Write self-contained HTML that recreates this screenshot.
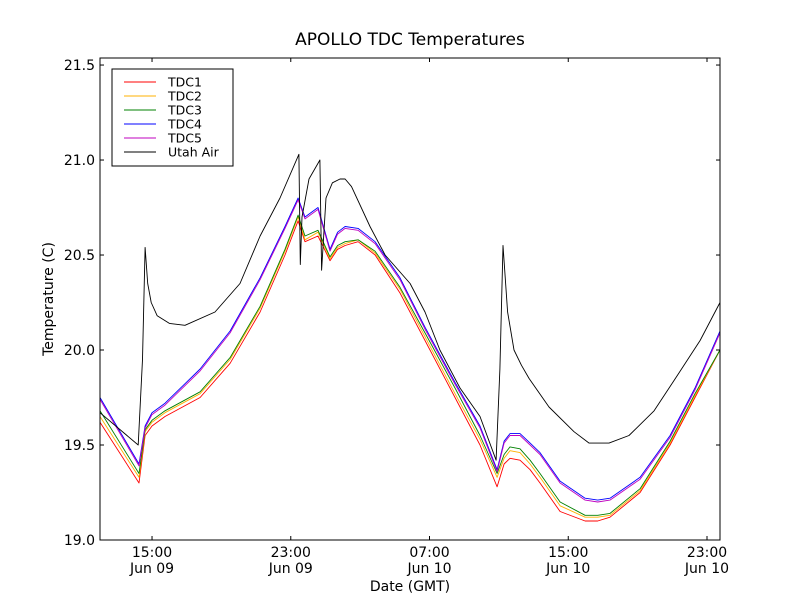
<!DOCTYPE html>
<html><head><meta charset="utf-8"><style>
body{margin:0;background:#fff}
svg{font-family:"DejaVu Sans","Liberation Sans",sans-serif}
</style></head><body>
<svg id="chart" width="800" height="600">
<rect width="800" height="600" fill="#fff"/>
<text x="410" y="45" font-size="17" text-anchor="middle">APOLLO TDC Temperatures</text>
<g id="series"></g>
<g id="axes"></g>
<text x="410" y="591" font-size="14" text-anchor="middle">Date (GMT)</text>
<text transform="translate(53,299) rotate(-90)" font-size="14" text-anchor="middle">Temperature (C)</text>
<g id="legend"></g>
</svg>
<script>
const tdcHours=[0,2.25,2.6,3.0,3.75,5.77,7.5,9.23,10.67,11.42,11.82,12.57,13.26,13.7,14.13,14.88,15.86,17.3,18.74,20.47,21.91,22.9,23.3,23.64,24.22,24.8,25.37,26.53,27.97,28.7,29.41,31.14,32.87,34.31,35.75];
const tdc1=[19.62,19.3,19.55,19.6,19.65,19.75,19.93,20.2,20.5,20.68,20.57,20.6,20.47,20.53,20.55,20.57,20.5,20.3,20.05,19.75,19.5,19.28,19.4,19.43,19.42,19.37,19.3,19.15,19.1,19.1,19.12,19.25,19.5,19.75,20.0];
const tdc2=[19.65,19.33,19.57,19.62,19.67,19.77,19.95,20.22,20.52,20.7,20.58,20.62,20.48,20.54,20.56,20.58,20.51,20.32,20.07,19.77,19.53,19.33,19.43,19.47,19.46,19.4,19.33,19.18,19.12,19.12,19.13,19.26,19.51,19.76,20.0];
const tdc3=[19.68,19.35,19.58,19.63,19.68,19.78,19.96,20.23,20.53,20.71,20.6,20.63,20.49,20.55,20.57,20.58,20.52,20.33,20.09,19.8,19.55,19.35,19.45,19.49,19.48,19.42,19.35,19.2,19.13,19.13,19.14,19.27,19.52,19.77,20.0];
const tdc4=[19.75,19.4,19.6,19.67,19.72,19.9,20.1,20.38,20.65,20.8,20.7,20.75,20.53,20.62,20.65,20.64,20.57,20.38,20.12,19.83,19.6,19.37,19.52,19.56,19.56,19.51,19.46,19.31,19.22,19.21,19.22,19.33,19.55,19.8,20.1];
const tdc5=[19.74,19.39,19.59,19.66,19.71,19.89,20.09,20.37,20.64,20.79,20.69,20.74,20.52,20.61,20.64,20.63,20.56,20.37,20.11,19.82,19.59,19.36,19.51,19.55,19.55,19.5,19.45,19.3,19.21,19.2,19.21,19.32,19.54,19.79,20.09];
const airHours=[0,2.2,2.45,2.6,2.75,2.95,3.3,4.0,4.9,6.63,8.07,9.23,10.38,11.47,11.55,11.65,12.05,12.68,12.78,13.03,13.4,13.84,14.13,14.5,15.57,16.44,17.88,18.74,19.6,20.76,21.91,22.84,23.06,23.24,23.5,23.87,24.3,24.74,25.89,27.33,28.2,29.35,30.5,31.95,33.39,34.6,35.75];
const airVals=[19.67,19.5,19.95,20.54,20.35,20.25,20.18,20.14,20.13,20.2,20.35,20.6,20.8,21.03,20.45,20.7,20.9,21.0,20.42,20.8,20.88,20.9,20.9,20.86,20.65,20.5,20.35,20.2,20.0,19.8,19.65,19.42,19.9,20.55,20.2,20.0,19.92,19.85,19.7,19.57,19.51,19.51,19.55,19.68,19.88,20.05,20.25];
const xTickHours=[3,11,19,27,35];
const xTickLabels=[["15:00","Jun 09"],["23:00","Jun 09"],["07:00","Jun 10"],["15:00","Jun 10"],["23:00","Jun 10"]];
const yTicks=[19.0,19.5,20.0,20.5,21.0,21.5];
const yTickLabels=["19.0","19.5","20.0","20.5","21.0","21.5"];
const seriesNames=["TDC1","TDC2","TDC3","TDC4","TDC5","Utah Air"];
const seriesColors=["#ff0000","#ffb000","#008000","#0000ff","#bf00bf","#000000"];

const L=100,R=720,T=58,B=540,hMax=35.75,yMin=19.0,yMax=21.537;
const xs=h=>L+h/hMax*(R-L);
const ys=v=>B-(v-yMin)/(yMax-yMin)*(B-T);
const NS="http://www.w3.org/2000/svg";
function mk(tag,attrs,parent){const e=document.createElementNS(NS,tag);for(const k in attrs)e.setAttribute(k,attrs[k]);parent.appendChild(e);return e;}
const sg=document.getElementById('series');
const data=[[tdcHours,tdc1],[tdcHours,tdc2],[tdcHours,tdc3],[tdcHours,tdc4],[tdcHours,tdc5],[airHours,airVals]];
data.forEach((d,i)=>{
  const p=mk('polyline',{points:d[0].map((h,j)=>xs(h).toFixed(1)+','+ys(d[1][j]).toFixed(1)).join(' '),fill:'none',stroke:seriesColors[i],'stroke-width':0.9,'stroke-linejoin':'round'},sg);
  
  
});
const ag=document.getElementById('axes');
const fr=mk('rect',{x:L,y:T,width:R-L,height:B-T,fill:'none',stroke:'#000','stroke-width':1},ag);


xTickHours.forEach((h,i)=>{
  const x=xs(h);
  mk('line',{x1:x,x2:x,y1:B,y2:B-4,stroke:'#000'},ag);
  mk('line',{x1:x,x2:x,y1:T,y2:T+4,stroke:'#000'},ag);
  const t=mk('text',{x:x,y:B+17,'font-size':14,'text-anchor':'middle'},ag);
  t.textContent=xTickLabels[i][0];
  
  
  const t2=mk('text',{x:x,y:B+33,'font-size':14,'text-anchor':'middle'},ag);
  t2.textContent=xTickLabels[i][1];
  
  
});
yTicks.forEach((v,i)=>{
  const y=ys(v);
  mk('line',{x1:L,x2:L+4,y1:y,y2:y,stroke:'#000'},ag);
  mk('line',{x1:R,x2:R-4,y1:y,y2:y,stroke:'#000'},ag);
  const t=mk('text',{x:L-5,y:y+5,'font-size':14,'text-anchor':'end'},ag);
  t.textContent=yTickLabels[i];
  
  
});
const lg=document.getElementById('legend');
const lb=mk('rect',{x:112,y:69,width:121,height:97,fill:'#fff',stroke:'#000','stroke-width':1},lg);


seriesNames.forEach((n,i)=>{
  const y=82+i*14;
  mk('line',{x1:124,x2:156,y1:y,y2:y,stroke:seriesColors[i],'stroke-width':1},lg);
  const t=mk('text',{x:168,y:y+4.5,'font-size':12.5},lg);
  t.textContent=n;
  
  
});
</script>
</body></html>
